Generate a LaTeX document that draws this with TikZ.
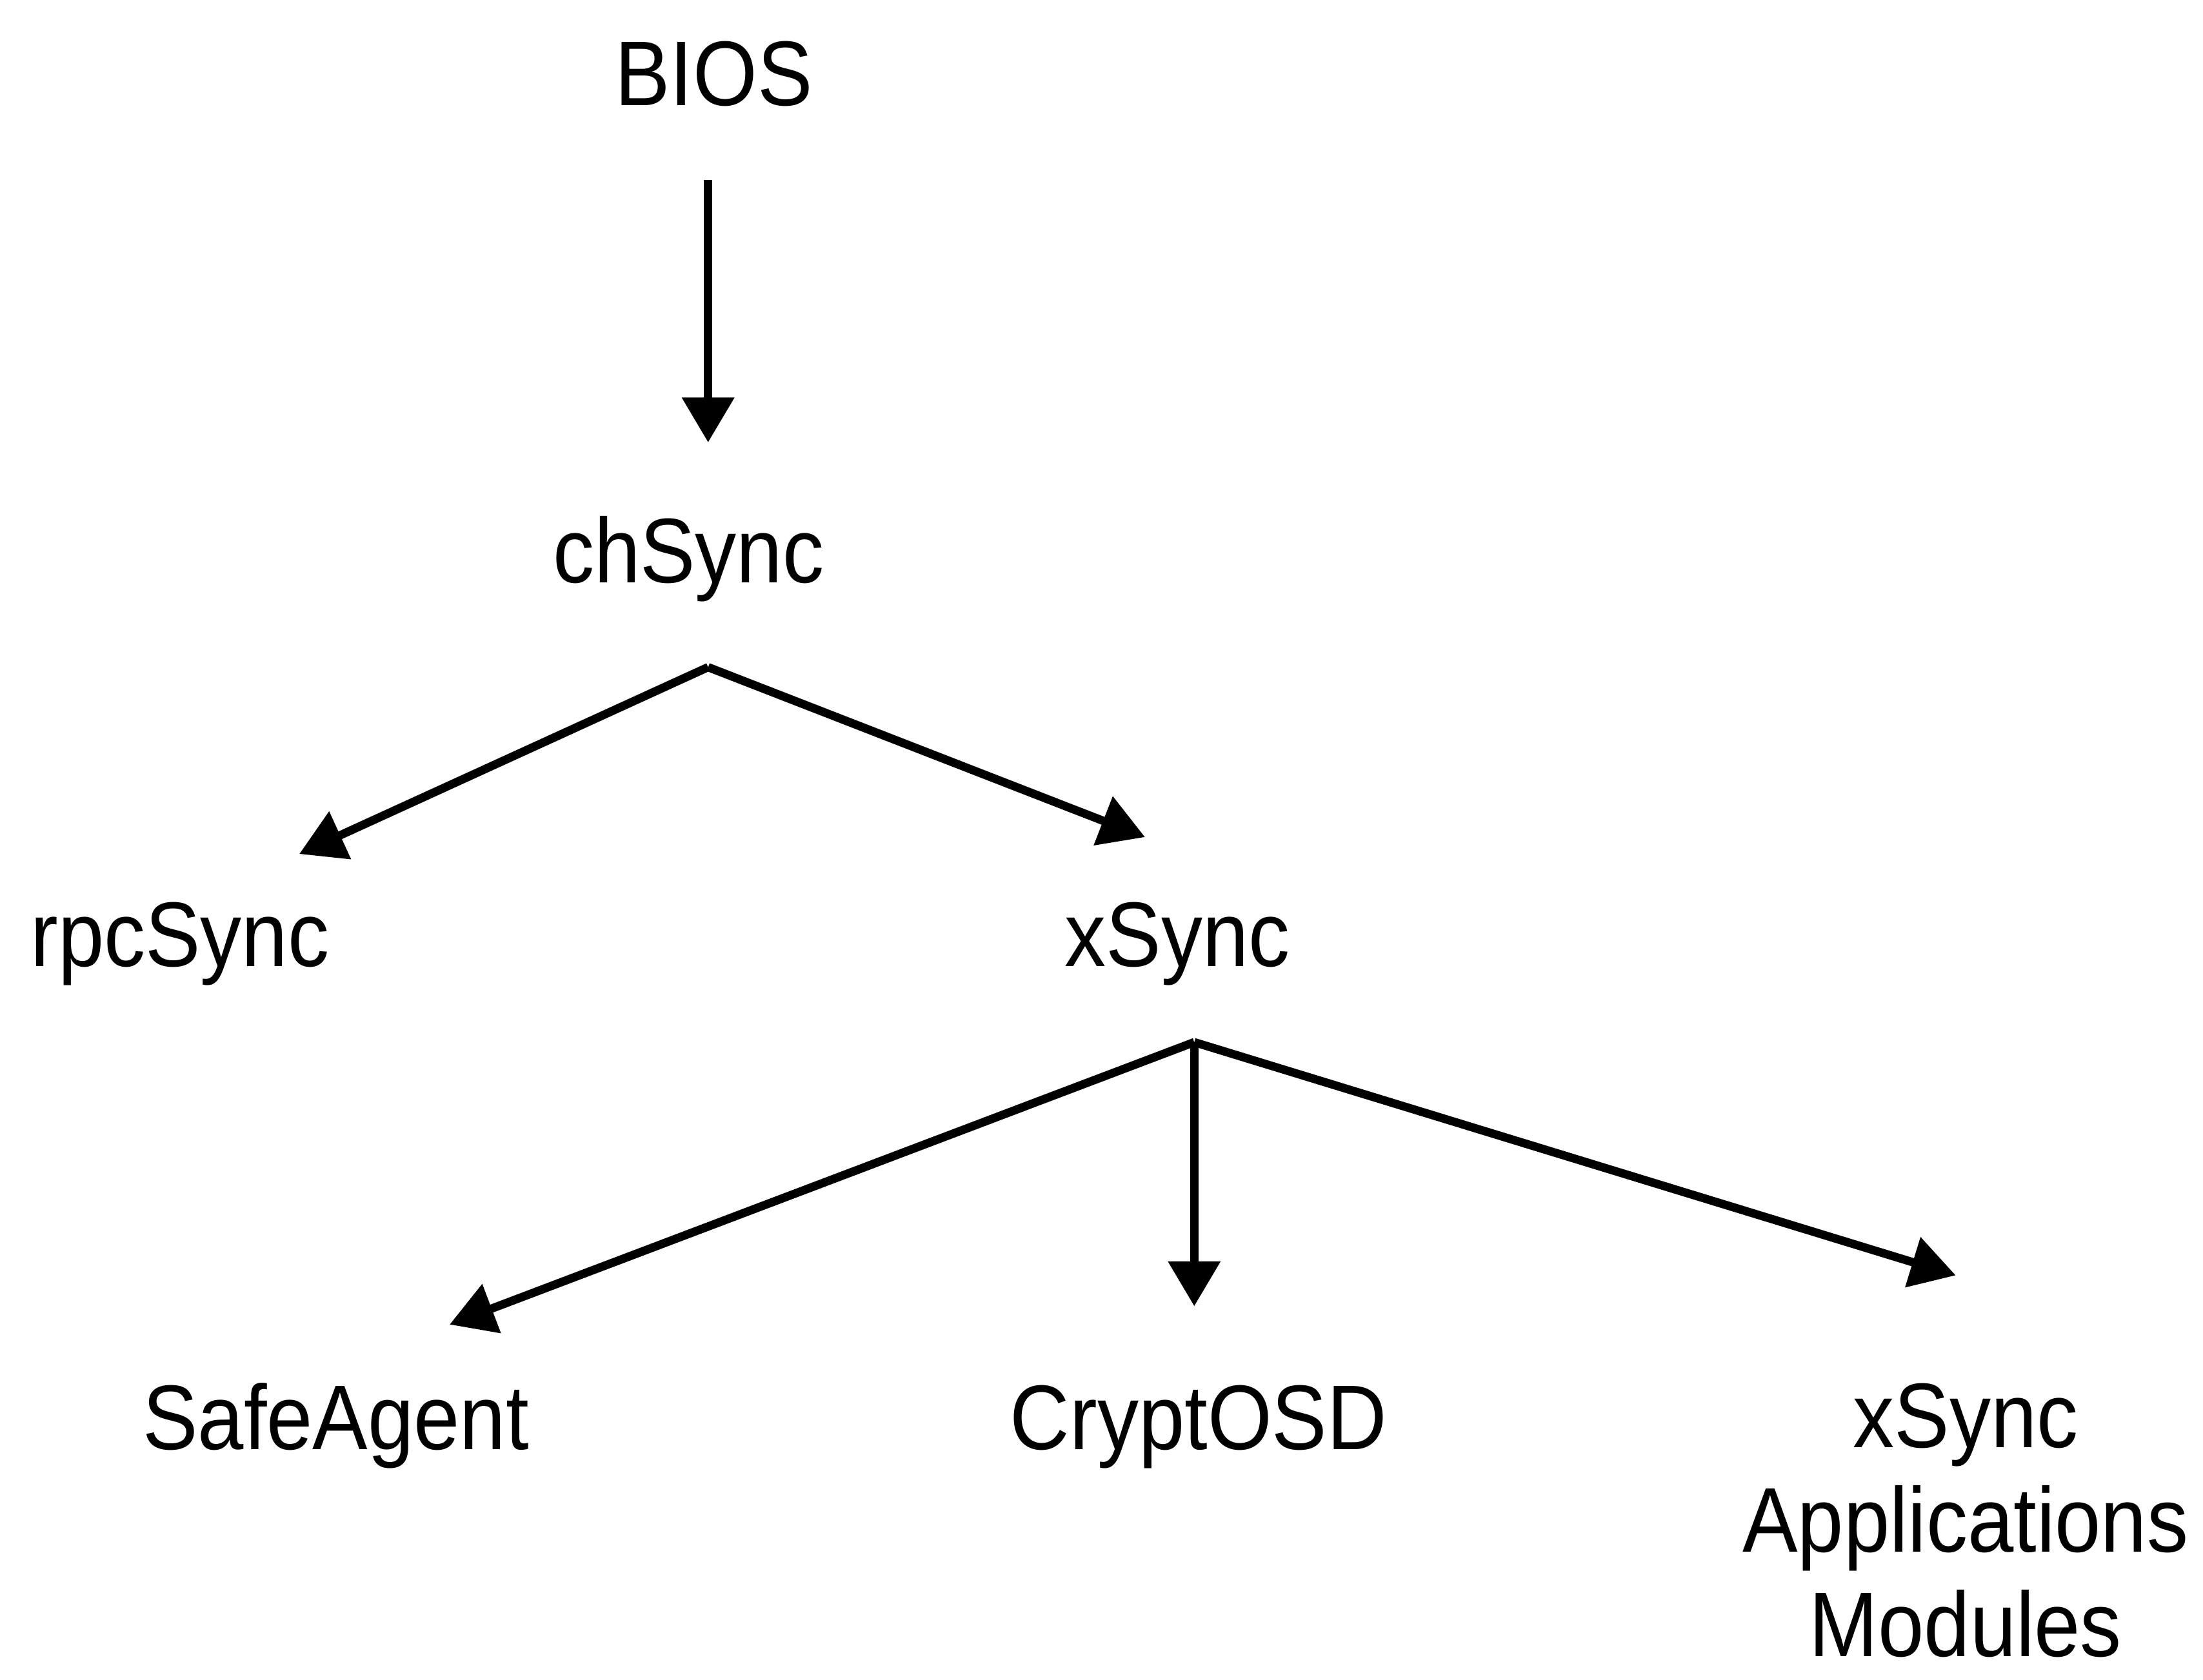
\documentclass[tikz,border=0pt]{standalone}
\usepackage{fontspec}
\setmainfont{Liberation Sans}[FakeStretch=0.9]
\usetikzlibrary{arrows.meta}

\begin{document}
\begin{tikzpicture}[scale=1, transform shape]
			\tikzstyle{module}=[
			inner sep=0pt,
			font=\fontsize{18.6}{21.2}\selectfont,
			align=center,
			anchor=base
			]
			\tikzstyle{call}=[
			-{Triangle[length=3.2mm,width=3.6mm]},
			line width=1.7pt
			]
			\useasboundingbox (0,0) rectangle (15.68,-11.96);
			% boot chain
			\node[module] (BIOS) at (5.08,-0.75) {BIOS};
			\node[module] (CHSYNC) at (4.90,-4.15) {chSync};
			\node[module] (RPCSYNC) at (1.28,-6.88) {rpcSync};
			\node[module] (XSYNC) at (8.38,-6.88) {xSync};
			\node[module] (SAFEAGENT) at (2.39,-10.32) {SafeAgent};
			\node[module] (CRYPTOSD) at (8.53,-10.32) {CryptOSD};
			\node[module, anchor=north] (XAPPS) at (13.99,-9.84) {xSync\\Applications\\Modules};
			% arrow ends
			\coordinate (BIOSOUT) at (5.04,-1.28);
			\coordinate (CHIN) at (5.04,-3.15);
			\coordinate (CHOUT) at (5.04,-4.75);
			\coordinate (RPCIN) at (2.13,-6.08);
			\coordinate (XIN) at (8.15,-5.96);
			\coordinate (XOUT) at (8.50,-7.42);
			\coordinate (SAFEIN) at (3.20,-9.43);
			\coordinate (CRYPTIN) at (8.50,-9.30);
			\coordinate (APPSIN) at (13.92,-9.08);
			\draw[call] (BIOSOUT) -- (CHIN);
			\draw[call] (CHOUT) -- (RPCIN);
			\draw[call] (CHOUT) -- (XIN);
			\draw[call] (XOUT) -- (SAFEIN);
			\draw[call] (XOUT) -- (CRYPTIN);
			\draw[call] (XOUT) -- (APPSIN);
			%\draw[call, dashed] (XSYNC) -- (XAPPS);
		\end{tikzpicture}
\end{document}
